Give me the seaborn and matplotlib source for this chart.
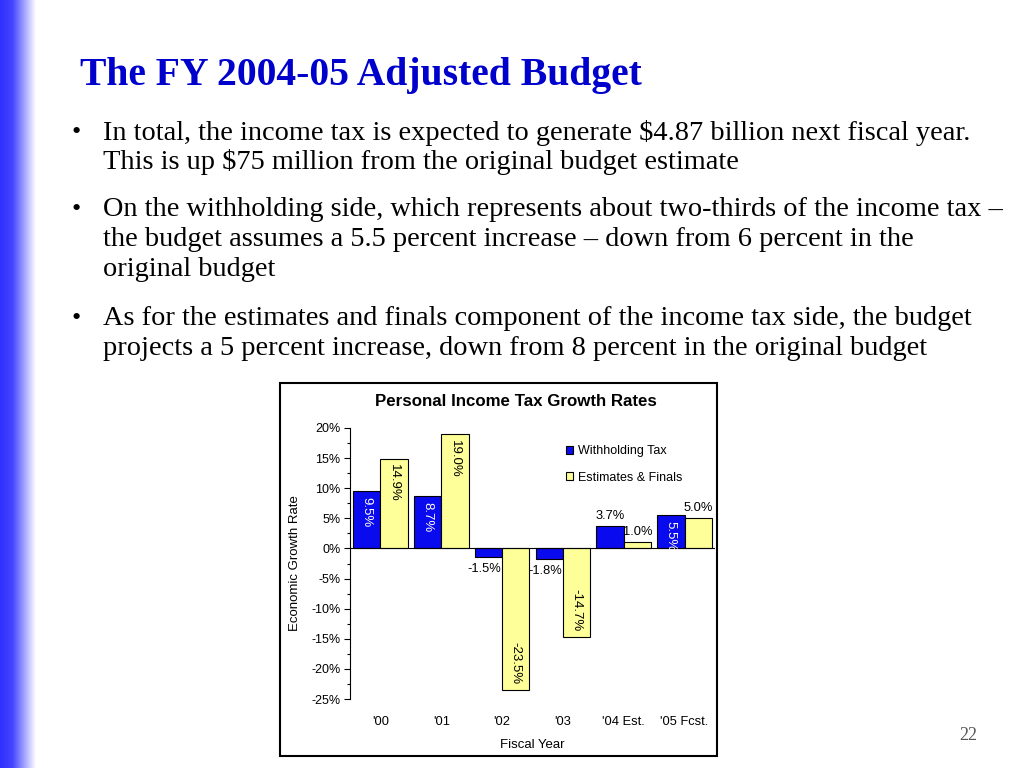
import numpy as np
import pandas as pd
import seaborn as sns
import matplotlib.pyplot as plt
from matplotlib.patches import Rectangle
from matplotlib.colors import LinearSegmentedColormap
from matplotlib.ticker import MultipleLocator, FuncFormatter

# chart data
years = ["'00", "'01", "'02", "'03", "'04 Est.", "'05 Fcst."]
withholding = [9.5, 8.7, -1.5, -1.8, 3.7, 5.5]
estimates = [14.9, 19.0, -23.5, -14.7, 1.0, 5.0]
series = ["Withholding Tax", "Estimates & Finals"]
# where each value label sits: inside the bar (rotated) or outside it
withholding_pos = ['in', 'in', 'out', 'out', 'out', 'in']
estimates_pos = ['in', 'in', 'in', 'in', 'out', 'out']

slide_title = "The FY 2004-05 Adjusted Budget"
bullets = [
    ["In total, the income tax is expected to generate $4.87 billion next fiscal year.",
     "This is up $75 million from the original budget estimate"],
    ["On the withholding side, which represents about two-thirds of the income tax \u2013",
     "the budget assumes a 5.5 percent increase \u2013 down from 6 percent in the",
     "original budget"],
    ["As for the estimates and finals component of the income tax side, the budget",
     "projects a 5 percent increase, down from 8 percent in the original budget"],
]
page_no = "22"

df = pd.DataFrame({
    'year': years * 2,
    'rate': withholding + estimates,
    'series': [series[0]] * len(years) + [series[1]] * len(years),
})

sns.set_theme(style='white')
plt.rcParams['font.family'] = ['Liberation Sans', 'DejaVu Sans']
plt.rcParams.update({'text.color': 'black', 'axes.labelcolor': 'black',
                     'xtick.color': 'black', 'ytick.color': 'black'})

fig = plt.figure(figsize=(10.24, 7.68), dpi=100)
H = 768.0
W = 1024.0

# blue gradient strip on the left edge of the slide
strip = fig.add_axes([0, 0, 36 / W, 1])
cmap = LinearSegmentedColormap.from_list('strip', [(0, '#3030ff'), (0.35, '#4444ff'), (1, '#ffffff')])
strip.imshow(np.linspace(0, 1, 256)[None, :], aspect='auto', cmap=cmap)
strip.axis('off')

serif = ['Liberation Serif', 'DejaVu Serif']
fig.text(80 / W, 1 - 75 / H, slide_title, fontfamily=serif, fontweight='bold',
         fontsize=28.5, color='#0000CC', va='center', ha='left')

line_y = [[133, 162], [210, 240, 270], [319, 349]]
for lines, ys in zip(bullets, line_y):
    fig.text(76 / W, 1 - ys[0] / H, '\u2022', fontfamily=serif, fontsize=19, va='center', ha='center')
    for txt, y in zip(lines, ys):
        fig.text(103 / W, 1 - y / H, txt, fontfamily=serif, fontsize=20.4, va='center', ha='left')

fig.text(968 / W, 1 - 736 / H, page_no, fontfamily=serif, fontsize=13, color='#555555',
         va='center', ha='center')

# frame around the chart
fig.patches.append(Rectangle((280 / W, 1 - 756 / H), 437 / W, 373 / H, transform=fig.transFigure,
                             fill=False, ec='black', lw=1.5))

ax = fig.add_axes([350 / W, 1 - 699 / H, 365 / W, 271 / H])
sns.barplot(data=df, x='year', y='rate', hue='series', palette=['#0A0AEE', '#FFFF99'],
            edgecolor='black', linewidth=0.8, width=0.9, saturation=1, ax=ax)

ax.set_ylim(-25, 20)
ax.set_xlim(-0.5, 5.5)
ax.yaxis.set_major_locator(MultipleLocator(5))
ax.yaxis.set_minor_locator(MultipleLocator(2.5))
ax.yaxis.set_major_formatter(FuncFormatter(lambda v, p: '%d%%' % v))
ax.tick_params(axis='y', which='major', direction='out', length=4, width=0.8, labelsize=9, pad=3, left=True)
ax.tick_params(axis='y', which='minor', direction='out', length=2, width=0.8, left=True)
ax.tick_params(axis='x', length=0, labelsize=9.3, pad=12)
for s in ['top', 'right', 'bottom']:
    ax.spines[s].set_visible(False)
ax.spines['left'].set_color('black')
ax.spines['left'].set_linewidth(0.8)
ax.axhline(0, color='black', lw=0.8)

ax.set_xlabel('Fiscal Year', fontsize=9.5, labelpad=8)
ax.set_ylabel('Economic Growth Rate', fontsize=9.5, labelpad=7)
fig.text(516 / W, 1 - 402 / H, 'Personal Income Tax Growth Rates', fontsize=12.2,
         fontweight='bold', ha='center', va='center')

# value labels
for cont, vals, pos, txtcol in zip(ax.containers, [withholding, estimates],
                                   [withholding_pos, estimates_pos], ['white', 'black']):
    for bar, v, p in zip(cont, vals, pos):
        cx = bar.get_x() + bar.get_width() / 2
        lab = '%.1f%%' % v
        if p == 'in':
            if v > 0:
                ax.annotate(lab, (cx, v), xytext=(0, -4), textcoords='offset points', rotation=270,
                            ha='center', va='top', color=txtcol, fontsize=9.5)
            else:
                ax.annotate(lab, (cx, v), xytext=(0, 4), textcoords='offset points', rotation=270,
                            ha='center', va='bottom', color=txtcol, fontsize=9.5)
        else:
            if v > 0:
                ax.annotate(lab, (cx, v), xytext=(0, 3), textcoords='offset points',
                            ha='center', va='bottom', color='black', fontsize=9.3)
            else:
                ax.annotate(lab, (cx, v), xytext=(-3, -4), textcoords='offset points',
                            ha='center', va='top', color='black', fontsize=9.3)

ax.legend(loc='upper left', bbox_to_anchor=(0.56, 0.978), frameon=False, fontsize=9,
          handlelength=0.6, handleheight=0.6, handletextpad=0.4, labelspacing=1.15)

fig.savefig('out.png', dpi=100)
